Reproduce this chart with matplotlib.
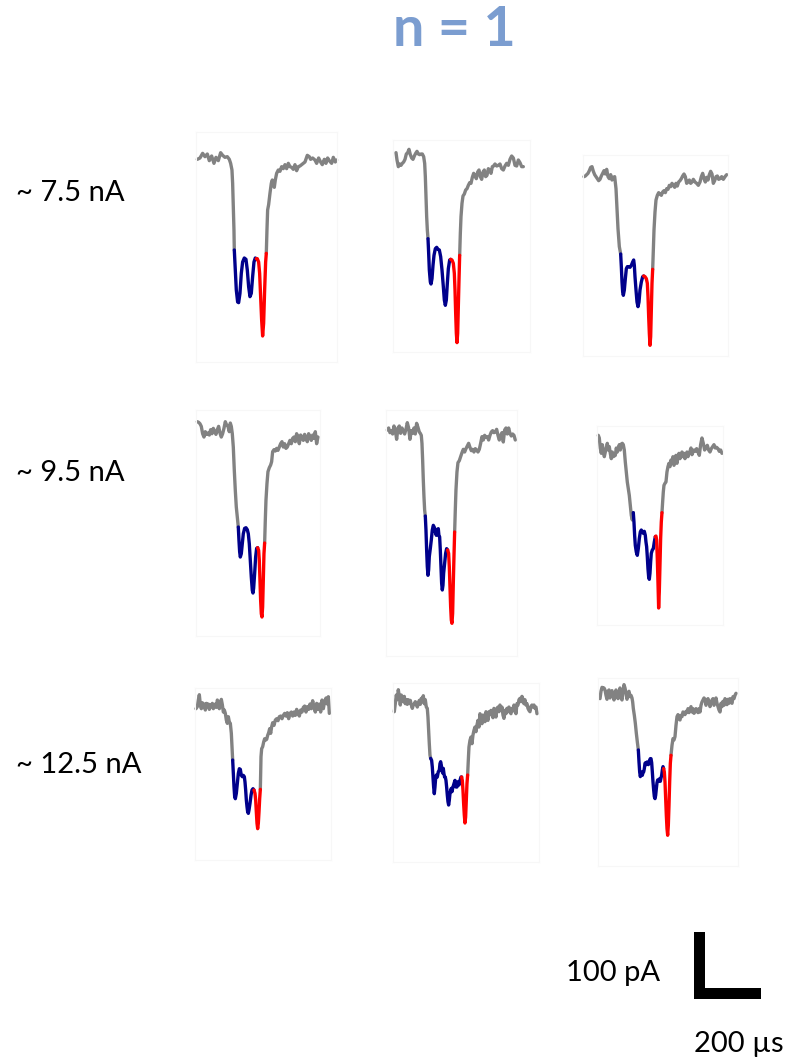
import numpy as np
import matplotlib
matplotlib.use("Agg")
from matplotlib import pyplot as plt
from matplotlib.patches import Rectangle

# figure size in pixels and the common scale of all traces
W, H = 785, 1063
US_PER_PX = 3.0
PA_PER_PX = 1.5

# stimulus levels (row labels)
levels = ["~ 7.5 nA", "~ 9.5 nA", "~ 12.5 nA"]

# --- traces: (time in µs, current in pA relative to baseline) ---
# row 1, ~7.5 nA
a1_pre = [(0, -2), (8, 0), (16, 7), (23, 2), (30, 6), (36, -4), (43, 3), (50, -8), (56, 1), (63, -4),
          (70, 8), (76, 4), (83, 1), (90, 2), (96, -2), (100, -8), (104, -18), (106, -38), (108, -73),
          (110, -108), (111, -138)]
a1_blue = [(111, -138), (114, -168), (117, -198), (121, -216), (124, -217), (128, -203), (132, -173),
           (136, -156), (141, -150), (146, -152), (150, -168), (154, -193), (158, -208), (162, -203),
           (166, -178), (170, -156), (174, -150), (177, -151)]
a1_red = [(177, -151), (180, -151), (184, -156), (187, -173), (190, -208), (193, -243), (196, -267),
          (199, -248), (202, -198), (205, -156), (207, -143)]
a1_post = [(207, -143), (209, -108), (211, -78), (214, -70), (218, -53), (222, -38), (225, -33), (228, -40),
           (231, -44), (234, -33), (238, -23), (243, -18), (248, -20), (253, -13), (258, -16), (263, -10),
           (268, -16), (273, -8), (278, -13), (283, -14), (288, -17), (293, -10), (298, -19), (303, -13),
           (308, -12), (313, -10), (318, -8), (323, -6), (330, 4), (336, 2), (340, -2), (346, 0), (353, -3),
           (358, -8), (364, 0), (370, -6), (375, -10), (381, -2), (386, -8), (391, 0), (396, -4), (403, -8),
           (408, 1), (414, -6), (418, -3)]

a2_pre = [(0, 11), (3, 0), (7, -10), (11, -6), (15, -8), (19, -5), (23, -3), (27, 1), (31, 9), (35, 11),
          (39, 16), (43, 8), (47, 3), (51, 1), (55, 6), (59, 10), (63, 13), (67, 9), (71, 8), (75, 9),
          (79, 9), (83, 5), (86, -5), (88, -25), (90, -55), (92, -85), (94, -105), (96, -118)]
a2_blue = [(96, -118), (98, -140), (100, -165), (103, -183), (105, -186), (108, -178), (111, -158),
           (114, -143), (118, -133), (122, -131), (126, -134), (130, -135), (134, -145), (138, -165),
           (142, -190), (145, -210), (148, -218), (151, -210), (154, -185), (157, -163), (161, -150),
           (164, -149)]
a2_red = [(164, -149), (168, -150), (172, -155), (175, -170), (177, -195), (179, -230), (181, -260),
          (183, -274), (185, -260), (187, -220), (189, -180), (191, -143)]
a2_post = [(191, -143), (193, -110), (195, -85), (198, -65), (201, -54), (205, -51), (209, -45), (213, -43),
           (217, -38), (221, -34), (225, -35), (229, -26), (233, -20), (237, -24), (241, -28), (245, -18),
           (249, -15), (253, -25), (257, -29), (261, -18), (265, -15), (269, -25), (273, -23), (277, -13),
           (281, -15), (285, -20), (289, -10), (293, -9), (297, -6), (302, -9), (307, -8), (312, -6),
           (317, -13), (322, -15), (327, -9), (332, -5), (337, -8), (342, 1), (347, 6), (352, 3), (357, -8),
           (362, -9), (367, 0), (372, -4), (377, -10), (382, -10)]

a3_pre = [(0, -1), (4, 0), (8, 2), (12, 4), (16, 8), (20, 13), (24, 14), (28, 7), (32, 2), (36, -1),
          (40, -4), (44, -7), (48, -5), (52, 0), (56, 4), (60, 8), (64, 3), (68, 10), (72, -1), (76, -4),
          (80, 2), (84, -6), (88, -2), (92, -1), (96, -19), (99, -49), (102, -79), (106, -106), (110, -117)]
a3_blue = [(110, -117), (112, -136), (114, -159), (116, -174), (118, -179), (121, -171), (124, -154),
           (127, -139), (130, -136), (134, -136), (138, -137), (142, -134), (146, -129), (149, -126),
           (151, -134), (153, -151), (156, -171), (159, -189), (162, -196), (165, -189), (168, -171),
           (172, -159), (176, -151), (179, -150)]
a3_red = [(179, -150), (183, -151), (187, -154), (190, -161), (192, -181), (194, -211), (196, -236),
          (198, -254), (200, -241), (202, -201), (204, -161), (206, -140)]
a3_post = [(206, -140), (208, -111), (210, -81), (213, -54), (216, -36), (220, -29), (224, -25), (228, -27),
           (232, -29), (236, -24), (240, -22), (244, -25), (248, -19), (252, -20), (256, -14), (260, -16),
           (264, -11), (268, -14), (272, -17), (276, -11), (280, -15), (284, -9), (288, -7), (292, -4),
           (296, 0), (300, 3), (304, -1), (308, -11), (312, -9), (316, -6), (320, -11), (324, -9), (328, -5),
           (333, -9), (338, -11), (343, -14), (348, -9), (352, -1), (356, 4), (360, -4), (364, -9), (368, -2),
           (372, -6), (376, 2), (380, 7), (384, 3), (388, -11), (392, -7), (396, -1), (400, 0), (404, -5),
           (408, -4), (413, -1), (418, -5), (423, -1), (428, 2)]

# row 2, ~9.5 nA
b1_pre = [(0, 15), (4, 14), (8, 12), (12, 8), (16, -3), (20, -8), (24, 0), (28, -4), (32, -2), (36, -5),
          (40, 3), (44, -3), (48, 5), (52, 0), (56, -4), (60, 3), (64, 8), (68, -2), (72, -8), (76, -3),
          (80, 5), (84, 15), (88, 10), (92, 8), (96, 0), (99, 13), (102, 8), (105, -3), (108, -23),
          (111, -58), (114, -88), (117, -113), (121, -133), (123, -143)]
b1_blue = [(123, -143), (125, -163), (127, -180), (129, -188), (132, -183), (135, -168), (138, -153),
           (142, -145), (146, -144), (150, -147), (153, -153), (156, -168), (159, -193), (162, -218),
           (165, -238), (167, -242), (169, -235), (172, -213), (175, -188), (178, -175), (181, -174)]
b1_red = [(181, -174), (184, -178), (186, -193), (188, -223), (190, -253), (192, -273), (194, -278),
          (196, -263), (198, -223), (200, -183), (202, -167)]
b1_post = [(202, -167), (204, -133), (206, -103), (209, -78), (212, -60), (216, -54), (220, -50), (223, -45),
           (226, -30), (230, -27), (234, -29), (238, -25), (242, -28), (246, -23), (250, -18), (254, -15),
           (258, -23), (262, -18), (266, -25), (270, -23), (274, -18), (278, -13), (282, -18), (286, -10),
           (290, -8), (294, -15), (298, -3), (302, -8), (306, -18), (310, -5), (314, -8), (318, -13),
           (322, -4), (326, -10), (330, -15), (334, -3), (338, -8), (342, -13), (346, -5), (350, -10),
           (354, 0), (358, -18), (362, -8)]

b2_pre = [(0, 0), (4, 3), (8, -4), (12, -1), (16, -6), (20, 6), (24, 0), (28, -14), (32, 3), (36, 6),
          (40, -5), (44, 3), (48, -1), (52, -6), (56, 1), (60, 11), (64, 3), (68, -14), (72, -1), (76, -5),
          (80, 3), (84, -6), (88, 10), (92, 4), (96, -3), (99, -5), (102, -8), (104, -20), (106, -45),
          (108, -75), (110, -100), (112, -120), (114, -129)]
b2_blue = [(114, -129), (116, -150), (118, -180), (120, -205), (122, -218), (124, -210), (126, -190),
           (129, -178), (132, -165), (135, -150), (138, -143), (141, -146), (144, -153), (147, -158),
           (150, -149), (153, -148), (155, -159), (157, -160), (159, -180), (161, -205), (163, -230),
           (165, -240), (167, -233), (169, -215), (172, -200), (175, -185), (178, -178), (181, -180)]
b2_red = [(181, -180), (184, -185), (186, -205), (188, -235), (190, -265), (192, -285), (194, -290),
          (196, -275), (198, -230), (200, -190), (202, -153)]
b2_post = [(202, -153), (204, -120), (206, -90), (209, -63), (212, -49), (216, -46), (220, -40), (224, -34),
           (228, -29), (232, -33), (236, -28), (240, -24), (244, -20), (248, -26), (252, -31), (256, -29),
           (260, -33), (264, -28), (268, -30), (272, -33), (276, -29), (280, -20), (284, -10), (288, -15),
           (292, -8), (296, -11), (300, -10), (304, -15), (308, -8), (312, -3), (316, -1), (320, -4),
           (324, -3), (328, 1), (332, -8), (336, -15), (340, -8), (344, -4), (348, -18), (352, 0), (356, 3),
           (360, -6), (364, 3), (368, -5), (372, -9), (376, -6), (380, -8), (384, -15)]

b3_pre = [(0, 22), (3, 18), (6, 3), (9, -5), (12, 8), (15, 0), (18, -10), (21, -3), (24, 3), (27, 10),
          (30, 0), (33, 5), (36, -5), (39, -13), (42, -3), (45, -10), (48, -9), (51, -8), (54, 3), (57, -3),
          (60, 2), (63, 8), (66, 0), (69, 9), (72, 10), (75, 8), (78, 0), (81, -18), (84, -33), (87, -48),
          (90, -58), (93, -68), (96, -83), (99, -98), (102, -105), (105, -94)]
b3_blue = [(105, -94), (107, -108), (109, -128), (111, -143), (114, -153), (117, -158), (120, -148),
           (123, -133), (126, -123), (129, -120), (132, -123), (135, -125), (138, -122), (141, -128),
           (143, -138), (145, -145), (147, -160), (149, -178), (151, -190), (153, -194), (155, -185),
           (157, -168), (159, -155), (162, -150), (165, -148), (168, -138), (171, -130)]
b3_red = [(171, -130), (173, -129), (175, -135), (177, -163), (179, -198), (181, -237), (183, -213),
          (185, -173), (187, -133), (189, -108), (191, -94)]
b3_post = [(191, -94), (193, -78), (195, -63), (197, -53), (200, -50), (203, -48), (206, -33), (209, -25),
           (212, -20), (215, -25), (218, -15), (221, -20), (224, -10), (227, -23), (230, -13), (233, -8),
           (236, -20), (239, -10), (242, -5), (245, -13), (248, -9), (251, -3), (254, -10), (257, -5),
           (260, -13), (263, -8), (266, -3), (269, -10), (272, -5), (275, -2), (278, 3), (281, -7), (284, -3),
           (287, 0), (291, -2), (295, 2), (299, -3), (303, -8), (307, 8), (311, 18), (315, 10), (319, 0),
           (323, 3), (327, 7), (331, 0), (335, -3), (339, 2), (343, 5), (347, 8), (351, 3), (355, 4),
           (359, 2), (363, -2), (367, 0), (371, -5)]

# row 3, ~12.5 nA
c1_pre = [(0, -3), (4, 0), (7, 10), (10, 18), (13, 3), (16, -3), (19, 6), (22, 0), (25, 4), (28, -5),
          (31, 5), (34, 1), (37, 4), (40, -4), (43, 3), (46, 0), (49, 5), (52, -3), (55, 1), (58, 4),
          (61, -1), (64, 10), (67, 6), (70, -3), (73, 4), (76, 11), (79, 3), (82, -8), (85, -5), (88, -10),
          (91, -20), (94, -25), (97, -15), (100, -23), (103, -25), (106, -40), (108, -60), (110, -80)]
c1_blue = [(110, -80), (112, -100), (114, -120), (116, -135), (118, -138), (121, -130), (124, -115),
           (127, -100), (130, -93), (133, -94), (136, -103), (139, -105), (142, -103), (145, -105),
           (147, -113), (149, -125), (151, -140), (153, -150), (155, -158), (157, -160), (159, -155),
           (162, -145), (165, -133), (168, -125), (171, -123), (174, -125)]
c1_red = [(174, -125), (177, -130), (179, -140), (181, -158), (183, -175), (185, -183), (187, -175),
          (189, -158), (191, -138), (193, -124)]
c1_post = [(193, -124), (194, -100), (195, -75), (197, -63), (200, -60), (203, -53), (206, -48), (209, -50),
           (212, -49), (215, -43), (218, -39), (221, -33), (224, -40), (227, -30), (230, -24), (234, -28),
           (238, -20), (242, -18), (246, -21), (250, -15), (254, -14), (258, -18), (262, -13), (266, -10),
           (270, -14), (274, -9), (278, -18), (282, -10), (286, -8), (290, -14), (294, -8), (298, -13),
           (302, -4), (306, -10), (310, -14), (314, -5), (318, -8), (322, -1), (326, 1), (330, -8), (334, 0),
           (338, -4), (342, 4), (346, -3), (350, 9), (354, -1), (358, -8), (362, 5), (366, -4), (370, 4),
           (374, -8), (378, 10), (382, -3), (386, 8), (390, 13), (394, 4), (397, 15), (400, -10)]

c2_pre = [(0, -15), (3, -3), (6, 10), (9, 3), (12, 18), (15, 8), (18, -5), (21, 10), (24, 5), (27, 0),
          (30, 8), (33, -3), (36, 3), (39, -4), (42, 3), (45, -2), (48, 2), (51, -5), (54, -10), (57, -5),
          (60, -3), (63, 0), (66, -4), (69, -8), (72, -3), (75, 2), (78, -4), (81, 5), (84, 0), (87, 9),
          (90, -3), (93, 3), (96, -8), (99, -10), (101, -23), (103, -43), (105, -63), (107, -80), (109, -85)]
c2_blue = [(109, -85), (112, -88), (114, -98), (116, -113), (118, -128), (120, -138), (122, -128),
           (124, -115), (126, -110), (129, -113), (132, -105), (135, -103), (137, -93), (139, -90),
           (141, -95), (143, -103), (145, -107), (147, -100), (149, -108), (151, -113), (153, -113),
           (155, -118), (157, -128), (159, -140), (161, -150), (163, -155), (165, -148), (167, -138),
           (169, -133), (171, -130), (173, -135), (176, -128), (179, -123), (182, -118), (185, -128),
           (188, -128), (191, -120), (194, -125), (197, -118), (200, -113), (202, -113)]
c2_red = [(202, -113), (204, -118), (206, -133), (208, -153), (210, -170), (212, -182), (214, -173),
          (216, -148), (218, -123), (220, -110)]
c2_post = [(220, -110), (222, -88), (224, -68), (227, -58), (230, -53), (233, -63), (236, -50), (239, -43),
           (242, -38), (245, -45), (248, -35), (251, -28), (254, -38), (257, -18), (260, -25), (263, -33),
           (266, -20), (269, -23), (272, -30), (275, -15), (278, -23), (281, -28), (284, -15), (287, -18),
           (290, -13), (293, -20), (296, -24), (299, -10), (302, -15), (305, -23), (308, -10), (311, -8),
           (314, -15), (317, -5), (320, -13), (323, -8), (326, -20), (329, -25), (332, -13), (335, -18),
           (338, -10), (341, -15), (344, -8), (347, -15), (350, -18), (353, -10), (356, -14), (359, -5),
           (362, -10), (365, -18), (368, -3), (371, -5), (374, 3), (377, 5), (380, 0), (383, 8), (386, 4),
           (389, -3), (392, 3), (395, -5), (398, -3), (401, -10), (404, -13), (407, -15), (410, -7),
           (413, -5), (416, -8), (419, -5), (422, -10), (425, -8), (428, -18)]

c3_pre = [(0, -8), (3, 3), (6, 9), (9, 7), (12, 8), (15, 5), (18, -3), (21, -9), (24, 3), (27, 5),
          (30, -7), (33, 0), (36, 4), (39, -3), (42, -10), (45, -2), (48, 5), (51, -4), (54, -8), (57, 2),
          (60, 8), (63, -7), (66, -10), (69, 3), (72, 13), (75, 8), (78, 0), (81, -9), (84, 0), (87, 3),
          (90, -5), (93, -3), (96, -7), (98, -13), (100, -23), (103, -33), (106, -45), (109, -60),
          (112, -73), (115, -85)]
c3_blue = [(115, -85), (117, -103), (119, -118), (121, -125), (123, -120), (125, -118), (127, -123),
           (129, -119), (131, -118), (133, -113), (135, -105), (137, -104), (139, -107), (141, -103),
           (143, -104), (145, -107), (147, -104), (149, -100), (151, -98), (153, -98), (155, -104),
           (157, -118), (159, -133), (161, -145), (163, -155), (165, -158), (167, -153), (169, -143),
           (171, -134), (173, -130), (175, -132), (177, -130), (179, -128), (181, -132), (183, -127),
           (185, -123), (187, -115), (189, -110), (191, -113)]
c3_red = [(191, -113), (193, -118), (195, -133), (197, -158), (199, -183), (201, -203), (203, -213),
          (205, -198), (207, -168), (209, -133), (211, -105), (213, -93)]
c3_post = [(213, -93), (216, -78), (219, -68), (222, -70), (225, -65), (228, -48), (231, -35), (234, -32),
           (237, -38), (240, -40), (243, -33), (246, -35), (249, -28), (252, -30), (255, -32), (258, -27),
           (261, -29), (264, -23), (267, -29), (270, -25), (273, -20), (276, -28), (279, -23), (282, -30),
           (285, -28), (288, -23), (291, -25), (294, -29), (297, -23), (300, -28), (303, -18), (306, -13),
           (309, -10), (312, -7), (315, -9), (318, -18), (321, -10), (324, -8), (327, -13), (330, -20),
           (333, -15), (336, -10), (339, -8), (342, -18), (345, -13), (348, -7), (351, -15), (354, -20),
           (357, -25), (360, -28), (363, -15), (366, -20), (369, -12), (372, -18), (375, -8), (378, -13),
           (381, -17), (384, -9), (387, -15), (390, -8), (393, -13), (396, -15), (399, -5), (402, -8),
           (405, -3), (408, 0)]

traces = [
    [(a1_pre, a1_blue, a1_red, a1_post), (a2_pre, a2_blue, a2_red, a2_post), (a3_pre, a3_blue, a3_red, a3_post)],
    [(b1_pre, b1_blue, b1_red, b1_post), (b2_pre, b2_blue, b2_red, b2_post), (b3_pre, b3_blue, b3_red, b3_post)],
    [(c1_pre, c1_blue, c1_red, c1_post), (c2_pre, c2_blue, c2_red, c2_post), (c3_pre, c3_blue, c3_red, c3_post)],
]

# layout (pixels): trace origin (t=0, baseline) and panel box (left, top, right, bottom)
origins = [
    [(197.3, 158.0), (396.0, 160.0), (584.0, 176.0)],
    [(197.3, 431.7), (387.3, 430.0), (598.3, 450.0)],
    [(196.0, 706.7), (394.3, 701.7), (600.0, 693.3)],
]
boxes = [
    [(196, 132, 337, 362), (393, 140, 530, 352), (583, 155, 728, 356)],
    [(196, 410, 320, 636), (386, 410, 517, 656), (597, 426, 723, 625)],
    [(195, 688, 331, 860), (393, 683, 539, 862), (598, 678, 738, 866)],
]

GRAY = "#828282"
BLUE = "#00008b"
RED = "#ff0000"
LW = 2.4

plt.rcParams["font.family"] = ["Lato", "DejaVu Sans"]

fig = plt.figure(figsize=(W / 100, H / 100), dpi=100)


def add_px_axes(box, origin):
    left, top, right, bottom = box
    ox, oy = origin
    ax = fig.add_axes([left / W, 1 - bottom / H, (right - left) / W, (bottom - top) / H])
    ax.set_xlim((left - ox) * US_PER_PX, (right - ox) * US_PER_PX)
    ax.set_ylim((oy - bottom) * PA_PER_PX, (oy - top) * PA_PER_PX)
    ax.set_xticks([])
    ax.set_yticks([])
    return ax


for r in range(3):
    for c in range(3):
        ax = add_px_axes(boxes[r][c], origins[r][c])
        for s in ax.spines.values():
            s.set_color("#f7f7f7")
            s.set_linewidth(0.8)
        pre, blue, red, post = traces[r][c]
        for seg, col in ((pre, GRAY), (post, GRAY), (blue, BLUE), (red, RED)):
            t, i = np.array(seg, dtype=float).T
            ax.plot(t, i, color=col, lw=LW, solid_joinstyle="round",
                    solid_capstyle="round", clip_on=False)

# row labels
label_y = [201, 481, 773]
for lab, y in zip(levels, label_y):
    fig.text(16 / W, 1 - y / H, lab, fontsize=21, va="baseline", ha="left")

fig.text(454 / W, 1 - 30 / H, "n = 1", fontsize=40, fontweight="bold",
         color="#7b9dd0", ha="center", va="center")

# scale bar: 100 pA by 200 µs
bar_pa, bar_us = 100, 200
thick_px = 11
sb_origin = (694, 999)
sb = add_px_axes((680, 900, 785, 1010), sb_origin)
sb.axis("off")
sb.add_patch(Rectangle((0, 0), thick_px * US_PER_PX, bar_pa, color="black", lw=0))
sb.add_patch(Rectangle((0, 0), bar_us, thick_px * PA_PER_PX, color="black", lw=0))

fig.text(566 / W, 1 - 981 / H, f"{bar_pa} pA", fontsize=21, va="baseline", ha="left")
fig.text(694 / W, 1 - 1052 / H, f"{bar_us} µs", fontsize=21, va="baseline", ha="left")

fig.savefig("out.png", dpi=100, facecolor="white")
